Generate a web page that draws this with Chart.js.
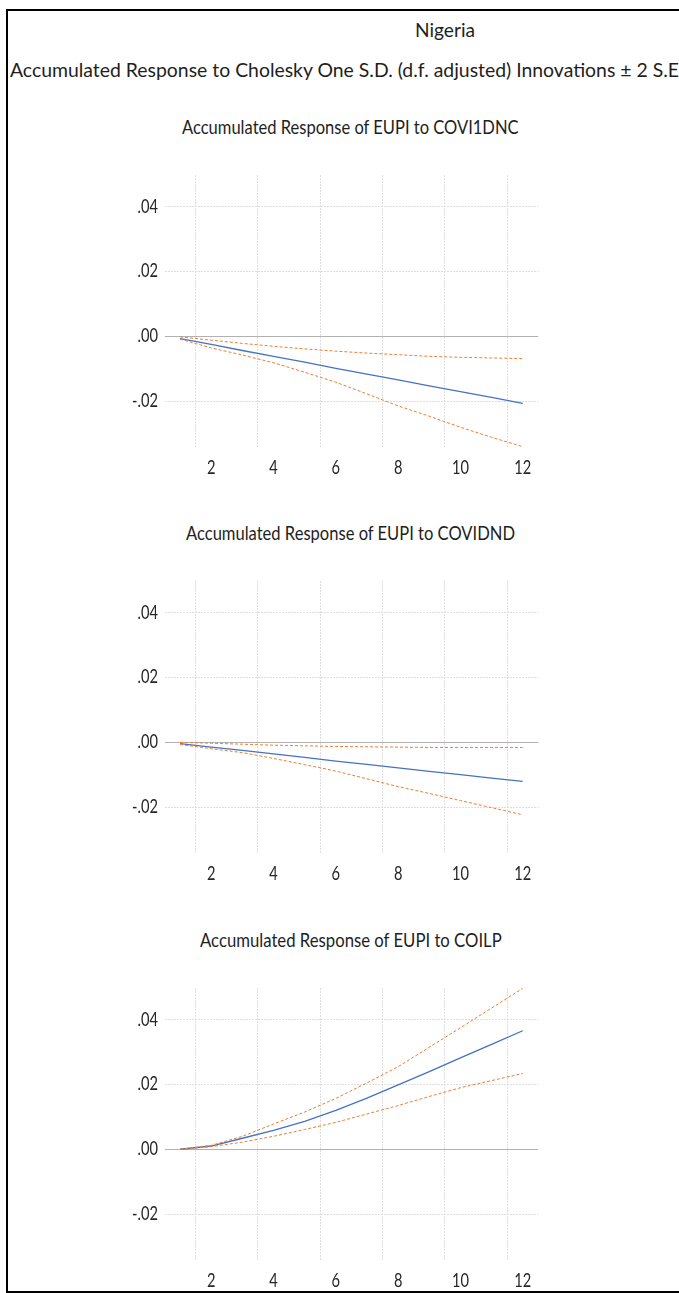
<!DOCTYPE html>
<html><head><meta charset="utf-8">
<script src="https://cdn.jsdelivr.net/npm/chart.js@4"></script>
<style>
html,body{margin:0;padding:0;background:#fff;width:679px;height:1293px;overflow:hidden;position:relative}
.t{position:absolute;white-space:nowrap;font-family:Lato,"Open Sans",sans-serif;font-size:20px;line-height:24px;color:#1e1e1e;transform-origin:0 0}
#frame{position:absolute;left:6px;top:9px;width:800px;height:1280px;border:2px solid #000;border-right:none}
.p{position:absolute;left:0;width:679px;height:328px}
</style></head><body>
<div id="frame"></div>
<div class="t" id="h1"></div>
<div class="t" id="h2"></div>
<div class="t" id="t0"></div>
<div class="t" id="t1"></div>
<div class="t" id="t2"></div>
<div class="p" id="c0"><canvas id="cv0" width="679" height="328"></canvas></div>
<div class="p" id="c1"><canvas id="cv1" width="679" height="328"></canvas></div>
<div class="p" id="c2"><canvas id="cv2" width="679" height="328"></canvas></div>
<script>
// ---- data ----
const periods = [1,2,3,4,5,6,7,8,9,10,11,12];
const xTickLabels = ['2','4','6','8','10','12'];
const yTicks = [-0.02, 0, 0.02, 0.04];
const yMin = -0.0342, yMax = 0.0498;
const headerTitle = 'Nigeria';
const headerSubtitle = 'Accumulated Response to Cholesky One S.D. (d.f. adjusted) Innovations ± 2 S.E.';
const panelTitles = [
  'Accumulated Response of EUPI to COVI1DNC',
  'Accumulated Response of EUPI to COVIDND',
  'Accumulated Response of EUPI to COILP'
];
// Panel 1: EUPI to COVI1DNC
const p1Response = [-0.0007,-0.0025,-0.0044,-0.0062,-0.0080,-0.0099,-0.0117,-0.0135,-0.0153,-0.0171,-0.0189,-0.0207];
const p1Upper    = [-0.0002,-0.0012,-0.0022,-0.0031,-0.0039,-0.0046,-0.0052,-0.0057,-0.0062,-0.0065,-0.0067,-0.0069];
const p1Lower    = [-0.0009,-0.0036,-0.0058,-0.0082,-0.0111,-0.0142,-0.0178,-0.0215,-0.0247,-0.0281,-0.0312,-0.0341];
// Panel 2: EUPI to COVIDND
const p2Response = [-0.0004,-0.0015,-0.0025,-0.0036,-0.0047,-0.0058,-0.0068,-0.0079,-0.0090,-0.0100,-0.0111,-0.0121];
const p2Upper    = [0.0000,-0.0003,-0.0006,-0.0009,-0.0011,-0.0013,-0.0014,-0.0015,-0.0016,-0.0016,-0.0016,-0.0016];
const p2Lower    = [-0.0007,-0.0020,-0.0032,-0.0050,-0.0069,-0.0089,-0.0113,-0.0137,-0.0158,-0.0180,-0.0202,-0.0224];
// Panel 3: EUPI to COILP
const p3Response = [0.0000,0.0010,0.0034,0.0058,0.0086,0.0120,0.0158,0.0199,0.0240,0.0282,0.0324,0.0366];
const p3Upper    = [0.0000,0.0012,0.0040,0.0078,0.0115,0.0157,0.0205,0.0255,0.0315,0.0375,0.0436,0.0497];
const p3Lower    = [0.0000,0.0008,0.0022,0.0040,0.0061,0.0083,0.0109,0.0135,0.0163,0.0190,0.0212,0.0234];

const panels = [
  {resp:p1Response, up:p1Upper, lo:p1Lower},
  {resp:p2Response, up:p2Upper, lo:p2Lower},
  {resp:p3Response, up:p3Upper, lo:p3Lower}
];

// ---- style / layout ----
const TICK_FONT = '20px Lato, "Open Sans", sans-serif';
const panelStep = 406.3;
const areaTop0 = 175, padTop = 16, xAxisH = 40;
const blue = '#4472C4', orange = '#ED7D31';

function fmt(v){
  const a = Math.abs(v).toFixed(2).replace(/^0/, '');
  return (v < -1e-9 ? '-' : '') + a;
}

// horizontal condensation for tick text (reference uses a tall, narrow face)
const mctx = document.createElement('canvas').getContext('2d');
mctx.font = TICK_FONT;
const TICK_SX = 17 / mctx.measureText('12').width;

function drawCond(ctx, s, x, y, align){
  ctx.save();
  ctx.translate(x, y);
  ctx.scale(TICK_SX, 1);
  ctx.textAlign = align;
  ctx.fillText(s, 0, 0);
  ctx.restore();
}

const condensedTicks = {
  id: 'condensedTicks',
  afterDraw(chart) {
    const ctx = chart.ctx, ca = chart.chartArea;
    const xs = chart.scales.x, ys = chart.scales.y;
    ctx.save();
    ctx.fillStyle = '#262626';
    ctx.font = TICK_FONT;
    ctx.textBaseline = 'alphabetic';
    xs.ticks.forEach((t, i) => {
      const lab = String(chart.data.labels[i]);
      if (!xTickLabels.includes(lab)) return;
      drawCond(ctx, lab, xs.getPixelForTick(i), ca.bottom + 27.3, 'center');
    });
    ys.ticks.forEach(t => {
      drawCond(ctx, fmt(t.value), ca.left - 6.5, ys.getPixelForValue(t.value) + 6, 'right');
    });
    ctx.restore();
  }
};

panels.forEach((p, k) => {
  const box = document.getElementById('c' + k);
  box.style.top = Math.round(areaTop0 + k * panelStep - padTop) + 'px';
  new Chart(document.getElementById('cv' + k), {
    type: 'line',
    data: {
      labels: periods,
      datasets: [
        {data: p.up, borderColor: orange, borderWidth: 1, borderDash: [3, 2], pointRadius: 0, tension: 0, fill: false},
        {data: p.lo, borderColor: orange, borderWidth: 1, borderDash: [3, 2], pointRadius: 0, tension: 0, fill: false},
        {data: p.resp, borderColor: blue, borderWidth: 1.3, pointRadius: 0, tension: 0, fill: false}
      ]
    },
    plugins: [condensedTicks],
    options: {
      responsive: false,
      animation: false,
      events: [],
      layout: {padding: {top: padTop, left: 0, right: 140.7, bottom: 0}},
      plugins: {legend: {display: false}, tooltip: {enabled: false}, title: {display: false}},
      scales: {
        x: {
          type: 'category',
          offset: true,
          grid: {
            offset: true, drawTicks: false, lineWidth: 1,
            color: ctx => (ctx.index % 2 === 1 && ctx.index < periods.length) ? '#dedede' : 'rgba(0,0,0,0)'
          },
          border: {display: false, dash: [2, 1]},
          ticks: {display: false, autoSkip: false, maxRotation: 0, minRotation: 0},
          afterFit: s => { s.height = xAxisH; }
        },
        y: {
          min: yMin, max: yMax,
          afterBuildTicks: s => { s.ticks = yTicks.map(v => ({value: v})); },
          grid: {
            drawTicks: false, lineWidth: 1,
            color: ctx => (ctx.tick && ctx.tick.value === 0) ? '#b2b2b2' : '#dedede'
          },
          border: {display: false, dash: ctx => (ctx.tick && ctx.tick.value === 0) ? [] : [2, 1]},
          ticks: {display: false},
          afterFit: s => { s.width = 164.5; }
        }
      }
    }
  });
});

// ---- text placement ----
function baselineOffset(el){
  const m = document.createElement('span');
  m.style.display = 'inline-block'; m.style.width = '0'; m.style.height = '0'; m.style.verticalAlign = 'baseline';
  el.appendChild(m);
  const off = m.getBoundingClientRect().top - el.getBoundingClientRect().top;
  m.remove();
  return off;
}
function measure(text){
  const m = document.createElement('span');
  m.className = 't'; m.style.visibility = 'hidden'; m.textContent = text;
  document.body.appendChild(m);
  const w = m.getBoundingClientRect().width; m.remove();
  return w;
}
function placeText(id, text, baseline, target, cx, left, widthText){
  const el = document.getElementById(id);
  el.textContent = text;
  el.style.top = '0px'; el.style.left = '0px';
  const full = el.getBoundingClientRect().width;
  const w = widthText ? measure(widthText) : full;
  const s = target / w;
  const bo = baselineOffset(el);
  el.style.top = (baseline - bo) + 'px';
  el.style.left = (cx !== null ? cx - full * s / 2 : left) + 'px';
  el.style.transform = 'scaleX(' + s + ')';
}
placeText('h1', headerTitle, 37, 60, 445, null);
placeText('h2', headerSubtitle, 76.5, 669, null, 10, headerSubtitle.slice(0, -1));
const titleWidths = [336.6, 329, 301.7];
const titleBase0 = 134;
panelTitles.forEach((t, k) => placeText('t' + k, t, titleBase0 + k * panelStep, titleWidths[k], 350.5, null));
</script>
</body></html>
